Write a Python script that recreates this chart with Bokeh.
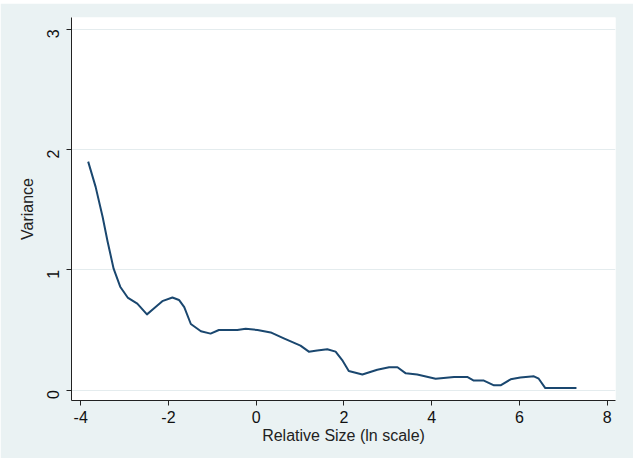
from bokeh.plotting import figure
from bokeh.layouts import column
from bokeh.models import Spacer, FixedTicker, Range1d
from bokeh.embed import file_html
from bokeh.resources import INLINE
import math

# Data
rel_size = [-3.83, -3.66, -3.50, -3.39, -3.25, -3.10, -2.93, -2.71, -2.49, -2.36,
            -2.14, -1.91, -1.76, -1.64, -1.49, -1.26, -1.04, -0.85, -0.66, -0.43,
            -0.24, 0.03, 0.33, 0.63, 1.01, 1.20, 1.39, 1.62, 1.81, 1.96,
            2.11, 2.42, 2.76, 3.03, 3.22, 3.41, 3.67, 4.09, 4.51, 4.81,
            4.96, 5.19, 5.42, 5.57, 5.80, 6.02, 6.33, 6.44, 6.59, 7.30]
variance = [1.90, 1.69, 1.44, 1.24, 1.01, 0.86, 0.77, 0.72, 0.63, 0.67,
            0.74, 0.77, 0.75, 0.69, 0.55, 0.49, 0.47, 0.50, 0.50, 0.50,
            0.51, 0.50, 0.48, 0.43, 0.37, 0.32, 0.33, 0.34, 0.32, 0.25,
            0.16, 0.13, 0.17, 0.19, 0.19, 0.14, 0.13, 0.095, 0.11, 0.11,
            0.08, 0.08, 0.04, 0.04, 0.09, 0.105, 0.115, 0.095, 0.017, 0.017]
x_ticks = [-4, -2, 0, 2, 4, 6, 8]
x_tick_labels = ["-4", "-2", "0", "2", "4", "6", "8"]
y_ticks = [0, 1, 2, 3]

BG = "#EAF2F3"
FONT = "Liberation Sans"

p = figure(width=633, height=455, output_backend="svg", toolbar_location=None,
           x_range=Range1d(-4.21, 8.19), y_range=Range1d(-0.086, 3.098),
           min_border_left=71, min_border_right=18, min_border_top=14, min_border_bottom=58)
p.background_fill_color = "white"
p.border_fill_color = BG
p.outline_line_color = None

p.line(rel_size, variance, line_color="#1A476F", line_width=2, line_join="round")

p.xgrid.visible = False
p.ygrid.ticker = FixedTicker(ticks=y_ticks)
p.ygrid.grid_line_color = "#E4ECEE"
p.ygrid.grid_line_width = 1

p.xaxis.ticker = FixedTicker(ticks=x_ticks)
p.xaxis.major_label_overrides = {t: s for t, s in zip(x_ticks, x_tick_labels)}
p.yaxis.ticker = FixedTicker(ticks=y_ticks)
p.xaxis.axis_label = "Relative Size (ln scale)"
p.yaxis.axis_label = "Variance"
for ax in (p.xaxis, p.yaxis):
    ax.axis_line_color = "#222222"
    ax.major_tick_line_color = "#222222"
    ax.minor_tick_line_color = None
    ax.major_tick_out = 5
    ax.major_tick_in = 0
    ax.major_label_text_font = FONT
    ax.major_label_text_font_size = "16px"
    ax.major_label_text_color = "#111111"
    ax.axis_label_text_font = FONT
    ax.axis_label_text_font_size = "16px"
    ax.axis_label_text_font_style = "normal"
    ax.axis_label_text_color = "#222222"
p.xaxis.major_label_standoff = 5
p.xaxis.axis_label_standoff = 1
p.yaxis.major_label_orientation = math.pi / 2
p.yaxis.major_label_standoff = 13
p.yaxis.axis_label_standoff = 3

layout = column(Spacer(width=633, height=3), p, spacing=0)
open("out.html", "w").write(file_html(layout, INLINE))
